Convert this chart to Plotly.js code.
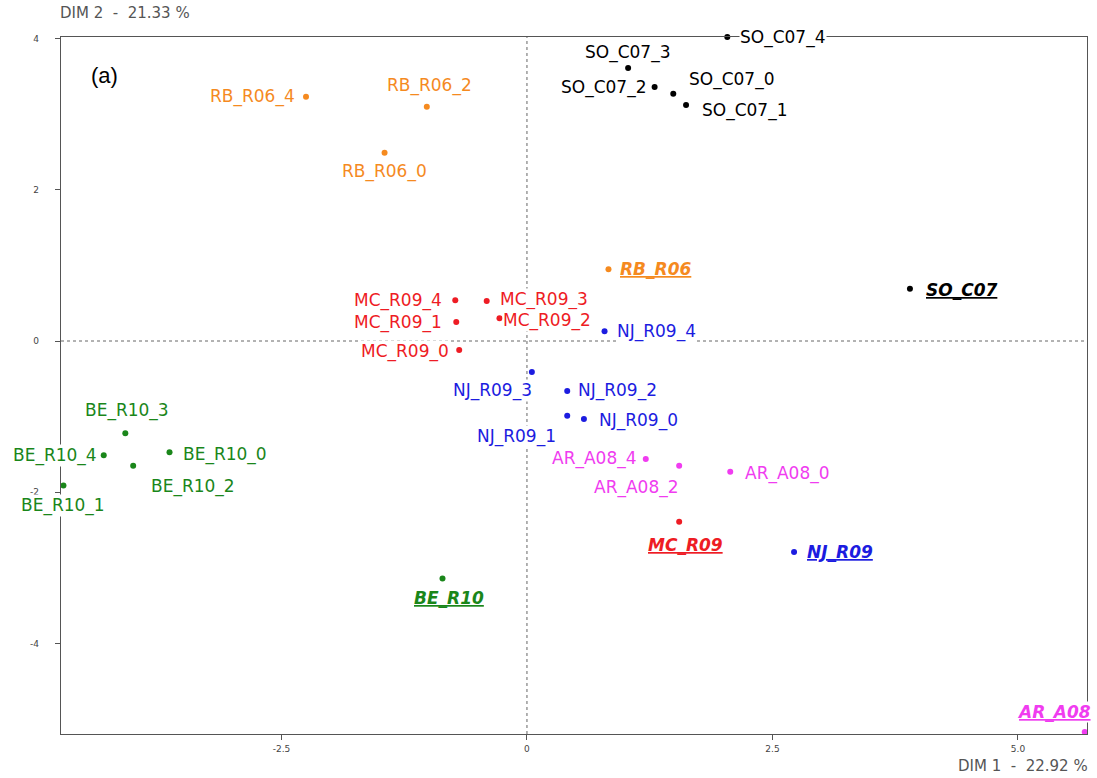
<!DOCTYPE html>
<html>
<head>
<meta charset="utf-8">
<script src="https://cdn.plot.ly/plotly-3.0.1.min.js"></script>
<style>html,body{margin:0;padding:0;background:#fff;}#chart{width:1097px;height:778px;}</style>
</head>
<body>
<div id="chart"></div>
<script>
// ---- data ----
const groupNames = ['SO_C07', 'RB_R06', 'MC_R09', 'NJ_R09', 'AR_A08', 'BE_R10'];

const soLabels = ['SO_C07_4', 'SO_C07_3', 'SO_C07_2', 'SO_C07_0', 'SO_C07_1'];
const soX = [2.04, 1.03, 1.30, 1.49, 1.62];
const soY = [4.02, 3.61, 3.36, 3.27, 3.12];

const rbLabels = ['RB_R06_4', 'RB_R06_2', 'RB_R06_0'];
const rbX = [-2.25, -1.02, -1.45];
const rbY = [3.23, 3.10, 2.49];

const mcLabels = ['MC_R09_4', 'MC_R09_3', 'MC_R09_1', 'MC_R09_2', 'MC_R09_0'];
const mcX = [-0.73, -0.41, -0.72, -0.28, -0.69];
const mcY = [0.54, 0.53, 0.25, 0.30, -0.12];

const njLabels = ['NJ_R09_4', 'NJ_R09_3', 'NJ_R09_2', 'NJ_R09_1', 'NJ_R09_0'];
const njX = [0.79, 0.05, 0.41, 0.41, 0.58];
const njY = [0.13, -0.41, -0.66, -0.99, -1.03];

const arLabels = ['AR_A08_4', 'AR_A08_2', 'AR_A08_0'];
const arX = [1.21, 1.55, 2.07];
const arY = [-1.56, -1.65, -1.73];

const beLabels = ['BE_R10_3', 'BE_R10_4', 'BE_R10_0', 'BE_R10_2', 'BE_R10_1'];
const beX = [-4.09, -4.31, -3.64, -4.01, -4.72];
const beY = [-1.22, -1.51, -1.47, -1.65, -1.91];

const centroidX = [3.90, 0.83, 1.55, 2.72, 5.68, -0.86];
const centroidY = [0.69, 0.95, -2.39, -2.79, -5.17, -3.14];

const xTickVals = [-2.5, 0, 2.5, 5.0];
const xTickText = ['-2.5', '0', '2.5', '5.0'];
const yTickVals = [-4, -2, 0, 2, 4];
const yTickText = ['-4', '-2', '0', '2', '4'];

const xTitle = 'DIM 1  -  22.92 %';
const yTitle = 'DIM 2  -  21.33 %';
const panelTag = '(a)';

// ---- styling ----
const colors = ['#000000', '#f58a1f', '#ee1c24', '#1c1ce0', '#f03cf0', '#1a861a'];
const labelFont = 'DejaVu Sans, Verdana, sans-serif';
const labelSize = 17;

// label placement: [xanchor, dx(px), dy(px, down positive)]
const groupPlace = [
  [['left', 12, 0], ['center', 0, -16], ['right', -7, 1], ['left', 15, -14], ['left', 15, 5]],
  [['right', -10, 0], ['center', 3, -21], ['center', 0, 19]],
  [['right', -12, 0], ['left', 12, -1], ['right', -13, 0], ['left', 3, 2], ['right', -9, 1]],
  [['left', 11, 0], ['right', 1, 18], ['left', 10, 0], ['right', -10, 21], ['left', 14, 2]],
  [['right', -8, 0], ['right', 1, 22], ['left', 14, 2]],
  [['center', 2, -23], ['right', -6, 0], ['left', 12, 2], ['left', 17, 21], ['center', 0, 20]]
];
const centroidPlace = [['left', 15, 1], ['left', 11, 0], ['center', 6, 23], ['left', 12, 0], ['right', 7, -20], ['center', 6, 20]];

const groups = [
  [soLabels, soX, soY],
  [rbLabels, rbX, rbY],
  [mcLabels, mcX, mcY],
  [njLabels, njX, njY],
  [arLabels, arX, arY],
  [beLabels, beX, beY]
];

const traces = [];
const annotations = [];
function addLabel(txt, x, y, place, color) {
  annotations.push({
    text: txt, x: x, y: y, xref: 'x', yref: 'y', showarrow: false,
    xanchor: place[0], yanchor: 'middle', xshift: place[1], yshift: -place[2],
    font: {family: labelFont, size: labelSize, color: color},
    bgcolor: 'rgba(255,255,255,1)', borderpad: 0
  });
}
groups.forEach((g, i) => {
  traces.push({
    type: 'scatter', mode: 'markers',
    x: g[1], y: g[2], text: g[0],
    marker: {color: colors[i], size: 6},
    cliponaxis: false, hoverinfo: 'text', showlegend: false
  });
  g[0].forEach((lab, j) => addLabel(lab, g[1][j], g[2][j], groupPlace[i][j], colors[i]));
});
traces.push({
  type: 'scatter', mode: 'markers',
  x: centroidX, y: centroidY, text: groupNames,
  marker: {color: colors, size: 6},
  cliponaxis: false, hoverinfo: 'text', showlegend: false
});
groupNames.forEach((n, i) => addLabel('<b><i><u>' + n + '</u></i></b>', centroidX[i], centroidY[i], centroidPlace[i], colors[i]));

const axisCommon = {
  showgrid: false, zeroline: false, showline: true, mirror: true,
  linecolor: '#555', linewidth: 1.2,
  ticks: 'outside', ticklen: 5, tickcolor: '#555',
  tickfont: {family: 'DejaVu Sans, sans-serif', size: 9, color: '#444'}
};

annotations.push(
  {text: yTitle, xref: 'paper', yref: 'paper', x: -0.003, y: 1, yshift: 24, xanchor: 'left', yanchor: 'middle', showarrow: false,
   font: {family: 'DejaVu Sans, sans-serif', size: 15, color: '#555'}},
  {text: xTitle, xref: 'paper', yref: 'paper', x: 1.003, y: 0, yshift: -32, xanchor: 'right', yanchor: 'middle', showarrow: false,
   font: {family: 'DejaVu Sans, sans-serif', size: 15, color: '#555'}},
  {text: panelTag, xref: 'paper', yref: 'paper', x: 0.027, y: 0.945, xanchor: 'left', yanchor: 'middle', showarrow: false,
   font: {family: 'Liberation Sans, Arial, sans-serif', size: 22, color: '#000'}}
);

const layout = {
  width: 1097, height: 778,
  margin: {l: 61, r: 10, t: 37, b: 44},
  paper_bgcolor: '#fff', plot_bgcolor: '#fff',
  xaxis: Object.assign({}, axisCommon, {range: [-4.745, 5.703], tickvals: xTickVals, ticktext: xTickText, ticklabelstandoff: 1}),
  yaxis: Object.assign({}, axisCommon, {range: [-5.198, 4.021], tickvals: yTickVals, ticktext: yTickText, ticklabelstandoff: 14}),
  shapes: [
    {type: 'line', xref: 'x', yref: 'paper', x0: 0, x1: 0, y0: 0, y1: 1, line: {color: '#666', width: 1, dash: 'dot'}, layer: 'below'},
    {type: 'line', xref: 'paper', yref: 'y', x0: 0, x1: 1, y0: 0, y1: 0, line: {color: '#666', width: 1, dash: 'dot'}, layer: 'below'}
  ],
  annotations: annotations
};

Plotly.newPlot('chart', traces, layout, {displayModeBar: false, staticPlot: true});
</script>
</body>
</html>
